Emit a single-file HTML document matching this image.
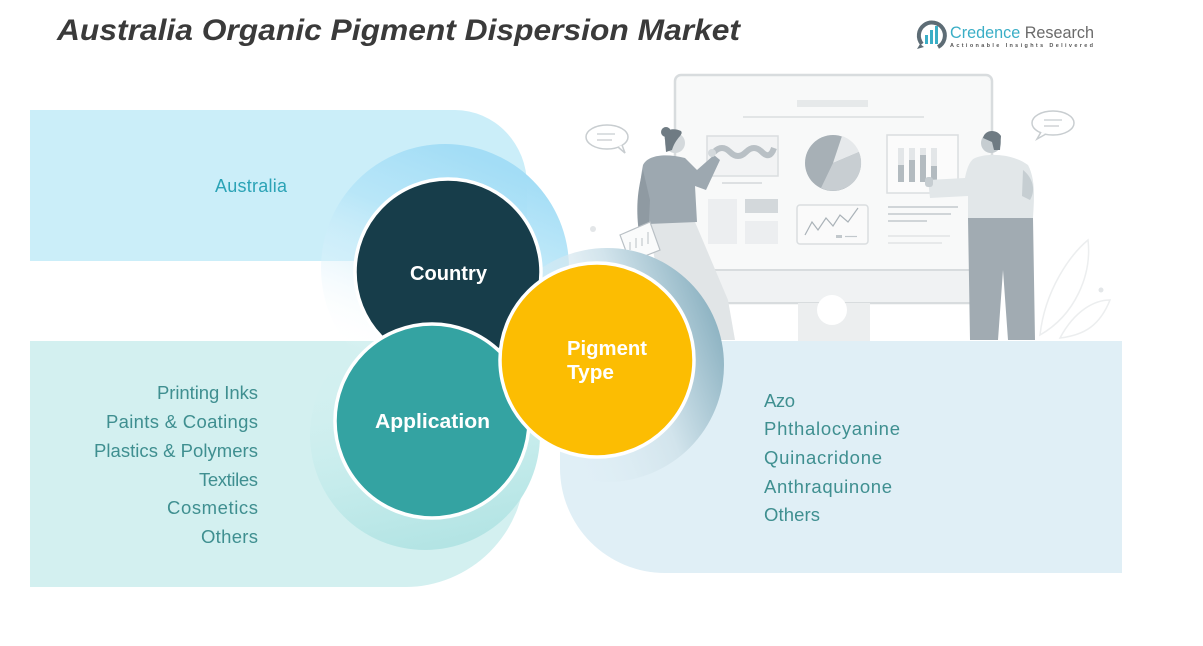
<!DOCTYPE html>
<html><head><meta charset="utf-8"><style>
html,body{margin:0;padding:0;background:#fff;}
svg{display:block;}
text{font-family:"Liberation Sans",sans-serif;}
</style></head><body>
<svg width="1203" height="646" viewBox="0 0 1203 646" xmlns="http://www.w3.org/2000/svg">
<defs>
<linearGradient id="gTop" x1="0.5" y1="0" x2="0.15" y2="0.85">
<stop offset="0" stop-color="#a3ddf6"/>
<stop offset="0.35" stop-color="#b5e5f8" stop-opacity="0.85"/>
<stop offset="0.7" stop-color="#dff3fb" stop-opacity="0.4"/>
<stop offset="1" stop-color="#ffffff" stop-opacity="0"/>
</linearGradient>
<linearGradient id="gApp" x1="0.3" y1="0.1" x2="0.5" y2="1">
<stop offset="0" stop-color="#d3f0f0" stop-opacity="0"/>
<stop offset="0.6" stop-color="#c6ecec"/>
<stop offset="1" stop-color="#b3e4e4"/>
</linearGradient>
<linearGradient id="gPig" x1="0.2" y1="0.6" x2="1" y2="0.3">
<stop offset="0" stop-color="#e0eff6" stop-opacity="0"/>
<stop offset="0.55" stop-color="#d2e4ec"/>
<stop offset="1" stop-color="#88afbf"/>
</linearGradient>
</defs>

<!-- Title -->
<text x="57" y="40" font-size="30" font-weight="bold" font-style="italic" fill="#3a3a3a" textLength="683" lengthAdjust="spacingAndGlyphs">Australia Organic Pigment Dispersion Market</text>

<!-- Logo -->
<g>
<path d="M922,44 A13,13 0 1 1 938,47" fill="none" stroke="#5d6c75" stroke-width="4"/>
<path d="M920,44 L917,49 L924,47 Z" fill="#5d6c75"/>
<rect x="925" y="35" width="3" height="9" fill="#3aaec6"/>
<rect x="930" y="30" width="3" height="14" fill="#3aaec6"/>
<rect x="935" y="26" width="3" height="18" fill="#3aaec6"/>
<text x="950" y="38" font-size="17" textLength="144" lengthAdjust="spacingAndGlyphs"><tspan fill="#3aaec6">Credence</tspan><tspan fill="#6a6a6a"> Research</tspan></text>
<text x="950" y="47" font-size="5.5" font-weight="bold" fill="#555" textLength="143" lengthAdjust="spacing">Actionable Insights Delivered</text>
</g>

<!-- Illustration -->
<g>
<rect x="675" y="75" width="317" height="228" rx="6" fill="#f8f9f9" stroke="#d8dcde" stroke-width="2.5"/>
<rect x="676" y="270" width="315" height="32" fill="#f0f2f3"/>
<line x1="675" y1="270" x2="992" y2="270" stroke="#d8dcde" stroke-width="2"/>
<rect x="798" y="303" width="72" height="38" fill="#eceeef"/>
<circle cx="832" cy="310" r="15" fill="#ffffff"/>
<rect x="797" y="100" width="71" height="7" fill="#e6e9ea"/>
<line x1="743" y1="117" x2="924" y2="117" stroke="#e2e5e6" stroke-width="2"/>
<rect x="707" y="136" width="71" height="40" fill="#f2f3f4" stroke="#dadee0" stroke-width="1.5"/>
<path d="M714,152 q8,-8 16,0 t16,0 t16,0 t12,-4" fill="none" stroke="#b9c0c5" stroke-width="6"/>
<line x1="722" y1="183" x2="762" y2="183" stroke="#dde0e2" stroke-width="2"/>
<circle cx="833" cy="163" r="28" fill="#a7b0b6"/>
<path d="M833,163 L842,136 A28,28 0 0 1 859,152 Z" fill="#e6e9eb"/>
<path d="M833,163 L859,152 A28,28 0 0 1 821,188 Z" fill="#c8ced2"/>
<rect x="887" y="135" width="71" height="58" fill="#fbfbfb" stroke="#dadee0" stroke-width="1.5"/>
<rect x="898" y="148" width="6" height="34" fill="#e3e6e8"/><rect x="898" y="165" width="6" height="17" fill="#b3bbc0"/>
<rect x="909" y="148" width="6" height="34" fill="#e3e6e8"/><rect x="909" y="160" width="6" height="22" fill="#b3bbc0"/>
<rect x="920" y="148" width="6" height="34" fill="#e3e6e8"/><rect x="920" y="155" width="6" height="27" fill="#b3bbc0"/>
<rect x="931" y="148" width="6" height="34" fill="#e3e6e8"/><rect x="931" y="166" width="6" height="16" fill="#b3bbc0"/>
<rect x="708" y="199" width="29" height="45" fill="#eceef0"/>
<rect x="745" y="199" width="33" height="14" fill="#d3d8db"/>
<rect x="745" y="221" width="33" height="23" fill="#eceef0"/>
<rect x="797" y="205" width="71" height="39" rx="3" fill="#fafafa" stroke="#dadee0" stroke-width="1.5"/>
<polyline points="805,235 812,222 818,230 826,218 833,226 840,215 848,222 858,208" fill="none" stroke="#aab2b8" stroke-width="1.2"/>
<rect x="836" y="235" width="6" height="3" fill="#c2c8cc"/><line x1="845" y1="236.5" x2="857" y2="236.5" stroke="#c2c8cc" stroke-width="1.2"/>
<line x1="888" y1="207" x2="958" y2="207" stroke="#d0d5d8" stroke-width="2"/>
<line x1="888" y1="214" x2="951" y2="214" stroke="#d0d5d8" stroke-width="2"/>
<line x1="888" y1="221" x2="927" y2="221" stroke="#d0d5d8" stroke-width="2"/>
<line x1="888" y1="236" x2="950" y2="236" stroke="#e1e4e6" stroke-width="1.5"/>
<line x1="888" y1="243" x2="942" y2="243" stroke="#e1e4e6" stroke-width="1.5"/>

<!-- speech bubbles -->
<ellipse cx="607" cy="137" rx="21" ry="12" fill="#fff" stroke="#c8cdd0" stroke-width="1.5"/>
<path d="M618,147 L625,153 L622,145" fill="#fff" stroke="#c8cdd0" stroke-width="1.5"/>
<line x1="597" y1="134" x2="615" y2="134" stroke="#c8cdd0" stroke-width="1.3"/>
<line x1="597" y1="140" x2="612" y2="140" stroke="#c8cdd0" stroke-width="1.3"/>
<ellipse cx="1053" cy="123" rx="21" ry="12" fill="#fff" stroke="#c8cdd0" stroke-width="1.5"/>
<path d="M1041,132 L1037,139 L1046,134" fill="#fff" stroke="#c8cdd0" stroke-width="1.5"/>
<line x1="1044" y1="120" x2="1062" y2="120" stroke="#c8cdd0" stroke-width="1.3"/>
<line x1="1044" y1="126" x2="1059" y2="126" stroke="#c8cdd0" stroke-width="1.3"/>
<circle cx="593" cy="229" r="3" fill="#e3e6e8"/>
<circle cx="1101" cy="290" r="2.5" fill="#e3e6e8"/>

<!-- faint leaves -->
<path d="M1040,335 C1045,290 1070,255 1088,240 C1092,275 1075,315 1040,335 Z" fill="none" stroke="#eceeef" stroke-width="1.5"/>
<path d="M1060,338 C1075,310 1095,300 1110,300 C1100,325 1085,335 1060,338 Z" fill="none" stroke="#eceeef" stroke-width="1.5"/>

<!-- woman -->
<path d="M648,222 L695,222 L728,300 L735,340 L690,340 L662,300 Z" fill="#e1e5e7"/>
<path d="M643,165 C648,155 665,153 685,158 L697,170 L714,155 L720,160 L706,190 L695,186 L697,222 L648,224 C640,215 637,195 643,165 Z" fill="#9da8b0"/>
<path d="M643,170 C636,195 636,215 640,240 L648,240 L650,200 Z" fill="#8f9aa2"/>
<circle cx="675" cy="143" r="10" fill="#d4d9dc"/>
<path d="M665,140 C663,130 672,127 681,131 C684,135 676,137 672,150 L666,152 Z" fill="#6f7b83"/>
<circle cx="666" cy="132" r="5" fill="#6f7b83"/>
<path d="M620,235 L650,222 L660,250 L630,262 Z" fill="#fafbfb" stroke="#b9c0c5" stroke-width="1.2"/>
<path d="M630,250 l0,-8 M636,248 l0,-10 M642,246 l0,-8 M648,244 l0,-12" stroke="#b9c0c5" stroke-width="1"/>
<circle cx="712" cy="153" r="4" fill="#d4d9dc"/>

<!-- man -->
<path d="M968,218 L1033,218 L1035,340 L1008,340 L1003,270 L998,340 L970,340 Z" fill="#a1abb2"/>
<path d="M975,158 C990,152 1015,155 1028,165 C1036,180 1034,200 1033,218 L968,218 L968,196 L930,198 L928,180 L965,178 C967,168 970,160 975,158 Z" fill="#e2e7e9"/>
<path d="M1023,170 C1033,178 1036,190 1030,200 L1022,196 Z" fill="#c6ced2"/>
<circle cx="991" cy="143" r="10" fill="#c6cdd1"/>
<path d="M983,138 C985,129 997,129 1001,136 L1000,150 L994,150 L992,142 Z" fill="#6f7b83"/>
<rect x="925" y="177" width="8" height="10" rx="3" fill="#c6cdd1"/>
</g>

<!-- Bands -->
<path d="M30,110 H455 A72,75 0 0 1 527,185 V261 H30 Z" fill="#cbeef9"/>
<path d="M30,341 H525 V467 A120,120 0 0 1 405,587 H30 Z" fill="#d3f0f0"/>
<path d="M560,341 H1122 V573 H665 A105,105 0 0 1 560,468 Z" fill="#e0eff6"/>

<!-- shadow rings -->
<circle cx="445" cy="268" r="124" fill="url(#gTop)"/>
<circle cx="425" cy="435" r="115" fill="url(#gApp)"/>
<circle cx="607" cy="365" r="117" fill="url(#gPig)"/>

<!-- Circles -->
<circle cx="448" cy="272" r="93" fill="#173d4a" stroke="#ffffff" stroke-width="3.5"/>
<circle cx="432" cy="421" r="97" fill="#34a3a2" stroke="#ffffff" stroke-width="3.5"/>
<circle cx="597" cy="360" r="97" fill="#fcbd02" stroke="#ffffff" stroke-width="3.5"/>

<text x="410" y="280" font-size="20" font-weight="bold" fill="#ffffff" textLength="77" lengthAdjust="spacingAndGlyphs">Country</text>
<text x="375" y="428" font-size="20" font-weight="bold" fill="#ffffff" textLength="115" lengthAdjust="spacingAndGlyphs">Application</text>
<text x="567" y="355" font-size="20" font-weight="bold" fill="#ffffff" textLength="80" lengthAdjust="spacingAndGlyphs">Pigment</text>
<text x="567" y="379" font-size="20" font-weight="bold" fill="#ffffff" textLength="47" lengthAdjust="spacingAndGlyphs">Type</text>

<!-- Labels -->
<text x="215" y="192" font-size="18" fill="#2ba3b6" textLength="72" lengthAdjust="spacing">Australia</text>

<g font-size="18.5" fill="#3f8f90" text-anchor="end">
<text x="258" y="399" textLength="101" lengthAdjust="spacing">Printing Inks</text>
<text x="258" y="428" textLength="152" lengthAdjust="spacing">Paints &amp; Coatings</text>
<text x="258" y="457" textLength="164" lengthAdjust="spacing">Plastics &amp; Polymers</text>
<text x="258" y="486" textLength="59" lengthAdjust="spacing">Textiles</text>
<text x="258" y="514" textLength="91" lengthAdjust="spacing">Cosmetics</text>
<text x="258" y="543" textLength="57" lengthAdjust="spacing">Others</text>
</g>

<g font-size="18.5" fill="#3f8f90">
<text x="764" y="407" textLength="31" lengthAdjust="spacing">Azo</text>
<text x="764" y="435" textLength="136" lengthAdjust="spacing">Phthalocyanine</text>
<text x="764" y="464" textLength="118" lengthAdjust="spacing">Quinacridone</text>
<text x="764" y="493" textLength="128" lengthAdjust="spacing">Anthraquinone</text>
<text x="764" y="521" textLength="56" lengthAdjust="spacing">Others</text>
</g>
</svg>
</body></html>
